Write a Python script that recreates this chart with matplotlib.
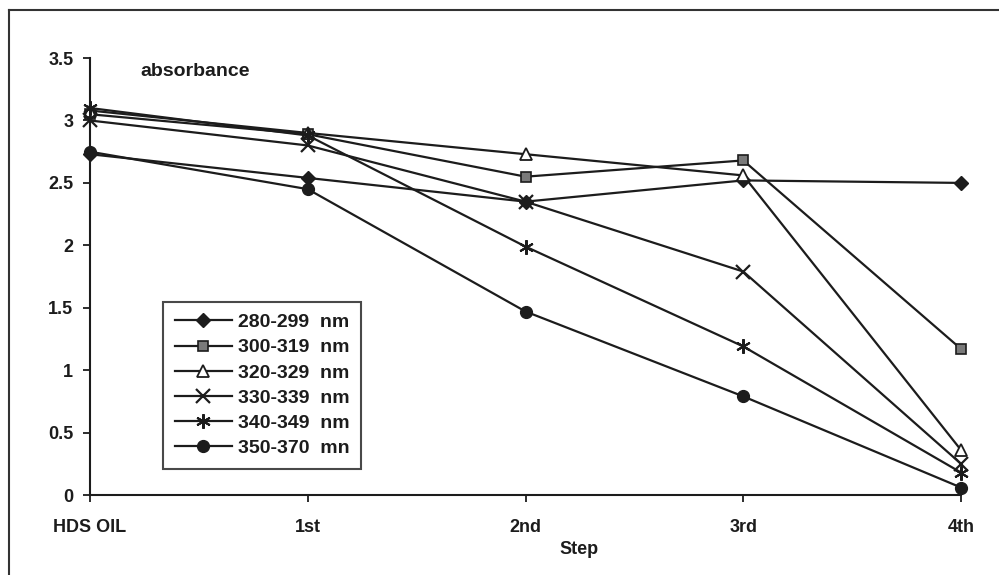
import matplotlib
matplotlib.use("Agg")
import matplotlib.pyplot as plt
from matplotlib.lines import Line2D

plt.rcParams['font.family'] = ['Liberation Sans', 'DejaVu Sans']
plt.rcParams['font.weight'] = 'bold'

steps = ["HDS OIL", "1st", "2nd", "3rd", "4th"]
labels = ["280-299  nm", "300-319  nm", "320-329  nm", "330-339  nm", "340-349  nm", "350-370  mn"]

s280 = [2.73, 2.54, 2.35, 2.52, 2.50]
s300 = [3.05, 2.89, 2.55, 2.68, 1.17]
s320 = [3.08, 2.90, 2.73, 2.56, 0.36]
s330 = [3.00, 2.80, 2.35, 1.79, 0.25]
s340 = [3.10, 2.88, 1.99, 1.19, 0.18]
s350 = [2.75, 2.45, 1.47, 0.79, 0.06]

series = [s280, s300, s320, s330, s340, s350]
ink = "#1c1c1c"
styles = [
    dict(marker="D", markersize=7, markerfacecolor=ink, markeredgecolor=ink),
    dict(marker="s", markersize=7.5, markerfacecolor="#7a7a7a", markeredgecolor=ink, markeredgewidth=1.2),
    dict(marker="^", markersize=8.5, markerfacecolor="white", markeredgecolor=ink, markeredgewidth=1.3),
    dict(marker="x", markersize=9.5, markeredgecolor=ink, markeredgewidth=1.6),
    dict(marker=(6, 2, 0), markersize=10.5, markeredgecolor=ink, markeredgewidth=1.5),
    dict(marker="o", markersize=8.5, markerfacecolor=ink, markeredgecolor=ink),
]

fig = plt.figure(figsize=(9.99, 5.75), dpi=100)
ax = fig.add_axes([0.0901, 0.1391, 0.962 - 0.0901, 0.899 - 0.1391])

x = list(range(len(steps)))
for vals, lab, st in zip(series, labels, styles):
    ax.plot(x, vals, color=ink, linewidth=1.6, label=lab, clip_on=False, **st)

ax.set_xlim(0, len(steps) - 1)
ax.set_ylim(0, 3.5)
ax.set_yticks([0, 0.5, 1, 1.5, 2, 2.5, 3, 3.5])
ax.set_yticklabels(["0", "0.5", "1", "1.5", "2", "2.5", "3", "3.5"])
ax.set_xticks(x)
ax.set_xticklabels(steps)
ax.tick_params(axis="both", labelsize=13, colors=ink, width=1.3, length=5, direction="out")
ax.tick_params(axis="x", pad=12)
ax.tick_params(axis="y", pad=7)
for lbl in ax.get_xticklabels() + ax.get_yticklabels():
    lbl.set_fontweight("bold")

for side in ("top", "right"):
    ax.spines[side].set_visible(False)
for side in ("left", "bottom"):
    ax.spines[side].set_color(ink)
    ax.spines[side].set_linewidth(1.5)

fig.text(579 / 999, 1 - 549 / 575, "Step", fontsize=13, fontweight="bold",
         color=ink, ha="center", va="center")
fig.text(140 / 999, 1 - 72 / 575, "absorbance", fontsize=14, fontweight="bold",
         color=ink, ha="left", va="center")

leg = ax.legend(loc="upper left", bbox_to_anchor=(163 / 999, 1 - 302 / 575),
                bbox_transform=fig.transFigure, frameon=True, fancybox=False,
                edgecolor=ink, borderaxespad=0, fontsize=14, handlelength=2.95,
                handletextpad=0.3, labelspacing=0.39, borderpad=0.6)
leg.get_frame().set_linewidth(1.5)
for t in leg.get_texts():
    t.set_fontweight("bold")
    t.set_color(ink)

# outer frame (left and top edges)
fig.add_artist(Line2D([9 / 999, 9 / 999], [0, 1 - 10 / 575], transform=fig.transFigure,
                      color="#333333", linewidth=1.5))
fig.add_artist(Line2D([9 / 999, 1], [1 - 10 / 575, 1 - 10 / 575], transform=fig.transFigure,
                      color="#333333", linewidth=1.5))

fig.savefig("out.png", dpi=100)
